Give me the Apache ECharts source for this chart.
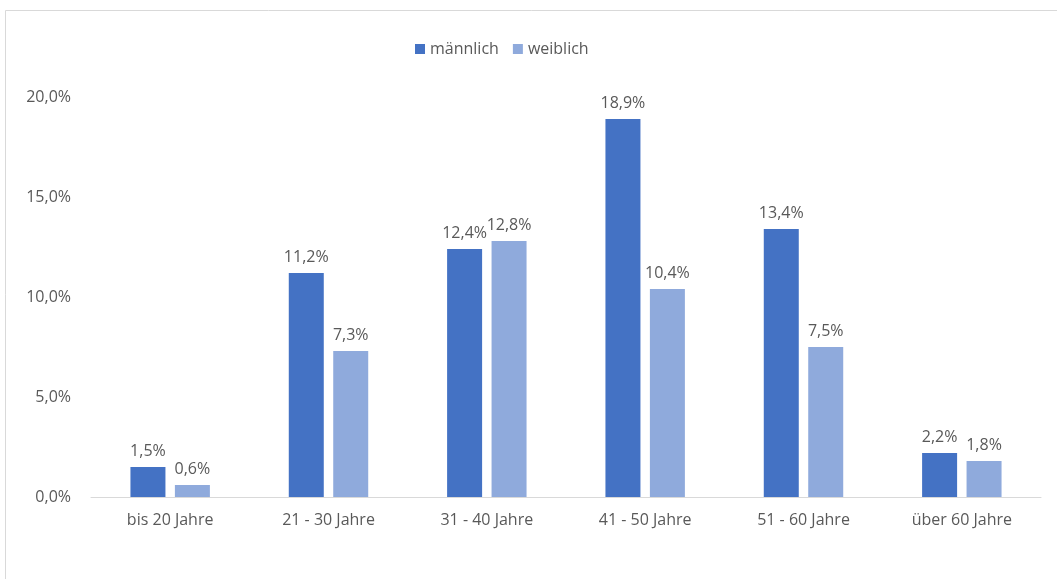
<!DOCTYPE html>
<html>
<head>
<meta charset="utf-8">
<script src="https://cdn.jsdelivr.net/npm/echarts@6/dist/echarts.min.js"></script>
<style>
  html, body { margin: 0; padding: 0; background: #ffffff; }
  #chart { width: 1057px; height: 579px; }
</style>
</head>
<body>
<div id="chart"></div>
<script>
// Altersgruppen und Anteile (in %)
const categories = ['bis 20 Jahre', '21 - 30 Jahre', '31 - 40 Jahre', '41 - 50 Jahre', '51 - 60 Jahre', 'über 60 Jahre'];
const maennlich = [1.5, 11.2, 12.4, 18.9, 13.4, 2.2];
const weiblich = [0.6, 7.3, 12.8, 10.4, 7.5, 1.8];
const seriesNames = ['männlich', 'weiblich'];
const yTicks = { min: 0, max: 20, interval: 5 };

const fontFamily = '"Open Sans", "Noto Sans", sans-serif';
const fmt = v => v.toFixed(1).replace('.', ',') + '%';

const chart = echarts.init(document.getElementById('chart'), null, { renderer: 'canvas' });

chart.setOption({
  animation: false,
  backgroundColor: '#ffffff',
  textStyle: { fontFamily },
  graphic: [
    {
      type: 'polyline',
      shape: { points: [[5.5, 579], [5.5, 10.5], [1057, 10.5]] },
      style: { stroke: '#d9d9d9', lineWidth: 1, fill: null },
      silent: true
    }
  ],
  legend: {
    top: 36,
    left: 410,
    itemWidth: 10,
    itemHeight: 10,
    itemGap: 14,
    icon: 'rect',
    textStyle: { color: '#595959', fontSize: 16, fontFamily },
    data: seriesNames
  },
  grid: { left: 91, right: 16, top: 97, bottom: 82, containLabel: false },
  xAxis: {
    type: 'category',
    data: categories,
    axisLine: { lineStyle: { color: '#d9d9d9', width: 1 } },
    axisTick: { show: false },
    axisLabel: { color: '#595959', fontSize: 16, margin: 15, fontFamily }
  },
  yAxis: {
    type: 'value',
    min: yTicks.min,
    max: yTicks.max,
    interval: yTicks.interval,
    axisLine: { show: false },
    axisTick: { show: false },
    splitLine: { show: false },
    axisLabel: { color: '#595959', fontSize: 16, margin: 20, formatter: fmt, fontFamily }
  },
  series: [
    {
      name: seriesNames[0],
      type: 'bar',
      data: maennlich,
      barWidth: 35,
      barGap: '27%',
      itemStyle: { color: '#4472c4' },
      label: { show: true, position: 'top', distance: 8, color: '#595959', fontSize: 16, formatter: p => fmt(p.value), fontFamily }
    },
    {
      name: seriesNames[1],
      type: 'bar',
      data: weiblich,
      barWidth: 35,
      itemStyle: { color: '#8faadc' },
      label: { show: true, position: 'top', distance: 8, color: '#595959', fontSize: 16, formatter: p => fmt(p.value), fontFamily }
    }
  ]
});
</script>
</body>
</html>
